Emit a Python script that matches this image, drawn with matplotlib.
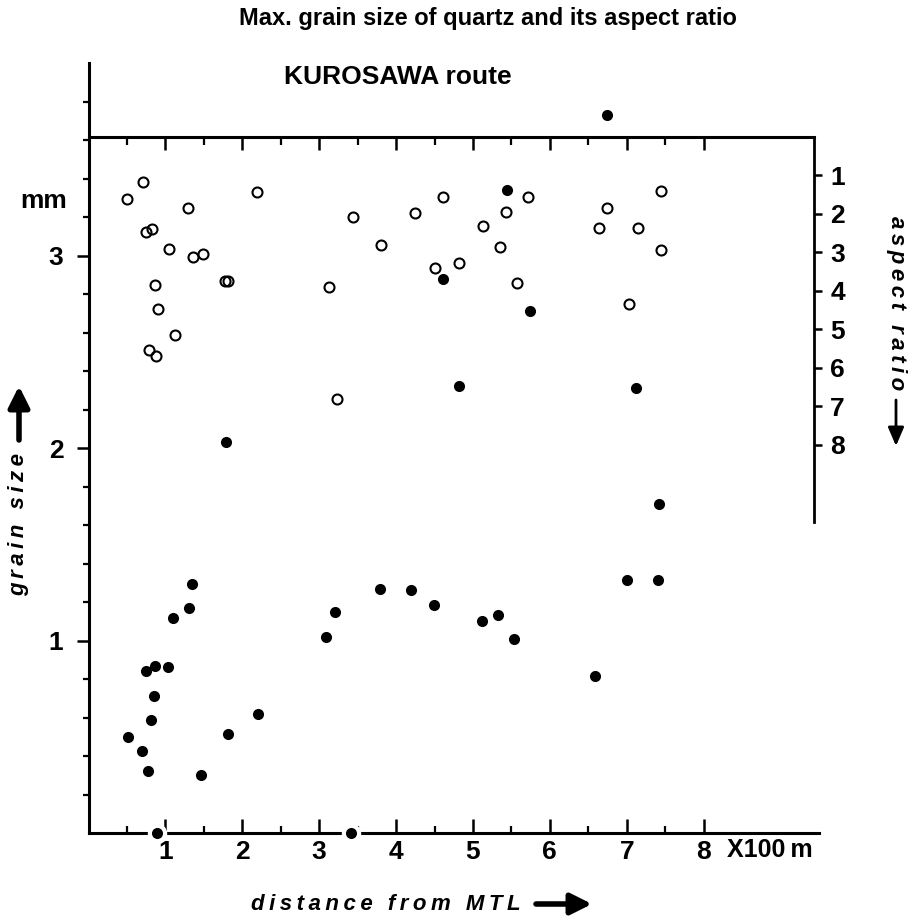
import numpy as np
import matplotlib
matplotlib.use('Agg')
import matplotlib.pyplot as plt
from matplotlib.ticker import FixedLocator
from matplotlib.patches import FancyArrowPatch

# ---- data (distance in x100 m from MTL) ----
# maximum grain size of quartz (mm) -> filled circles, left axis
dist_gs = [0.51, 0.69, 0.77, 0.75, 0.86, 0.85, 0.81, 0.89, 1.04, 1.10, 1.31, 1.35,
           1.46, 1.79, 1.82, 2.21, 3.09, 3.21, 3.42, 3.79, 4.20, 4.49, 4.61, 4.82,
           5.12, 5.32, 5.44, 5.54, 5.74, 6.59, 6.74, 7.00, 7.12, 7.40, 7.42]
grain_size = [0.50, 0.425, 0.32, 0.84, 0.87, 0.71, 0.585, 0.0, 0.86, 1.115, 1.167, 1.295,
              0.30, 2.03, 0.514, 0.62, 1.02, 1.15, 0.0, 1.266, 1.26, 1.185, 2.88, 2.32,
              1.10, 1.13, 3.34, 1.01, 2.71, 0.818, 3.73, 1.316, 2.31, 1.314, 1.71]
# aspect ratio -> open circles, right axis (inverted)
dist_ar = [0.50, 0.71, 0.75, 0.83, 1.29, 1.05, 1.36, 1.49, 0.87, 0.91, 1.12, 0.79,
           0.88, 1.77, 1.82, 2.19, 3.13, 3.23, 3.44, 3.80, 4.25, 4.61, 4.51, 4.82,
           5.13, 5.35, 5.43, 5.57, 5.72, 6.64, 6.74, 7.03, 7.15, 7.45, 7.44]
aspect_ratio = [1.61, 1.18, 2.47, 2.39, 1.84, 2.90, 3.12, 3.04, 3.85, 4.46, 5.14, 5.53,
                5.70, 3.73, 3.73, 1.43, 3.90, 6.81, 2.07, 2.81, 1.98, 1.57, 3.41, 3.27,
                2.31, 2.85, 1.96, 3.80, 1.55, 2.37, 1.85, 4.34, 2.36, 1.40, 2.94]

x_major = [1, 2, 3, 4, 5, 6, 7, 8]
x_minor = [0.5, 1.5, 2.5, 3.5, 4.5, 5.5, 6.5, 7.5]
x_labels = ['1', '2', '3', '4', '5', '6', '7', '8']
y_major = [1, 2, 3]
y_labels = ['1', '2', '3']
y_minor = [0.2, 0.4, 0.6, 0.8, 1.2, 1.4, 1.6, 1.8, 2.2, 2.4, 2.6, 2.8, 3.2, 3.4, 3.6, 3.8]
ar_ticks = [1, 2, 3, 4, 5, 6, 7, 8]

title = 'Max. grain size of quartz and its aspect ratio'
route = 'KUROSAWA route'

plt.rcParams['font.family'] = ['Liberation Sans', 'DejaVu Sans']
plt.rcParams['font.weight'] = 'bold'

W, H = 910, 919
fig = plt.figure(figsize=(W / 100, H / 100), dpi=100)


def fx(px):
    return px / W


def fy(py):
    return 1 - py / H


ax = fig.add_axes([fx(88.5), fy(833), (819 - 88.5) / W, (833 - 63) / H])
ax.set_xlim(0, 9.5)
ax.set_ylim(0, 4.0)
for s in ['top', 'right']:
    ax.spines[s].set_visible(False)
ax.spines['left'].set_linewidth(2.2)
ax.spines['bottom'].set_linewidth(2.2)

ax.xaxis.set_major_locator(FixedLocator(x_major))
ax.xaxis.set_minor_locator(FixedLocator(x_minor))
ax.set_xticklabels(x_labels)
ax.yaxis.set_major_locator(FixedLocator(y_major))
ax.yaxis.set_minor_locator(FixedLocator(y_minor))
ax.set_yticklabels(y_labels)
ax.tick_params(axis='x', which='major', direction='in', length=10, width=1.8,
               pad=5, labelsize=19)
ax.tick_params(axis='x', which='minor', direction='in', length=5, width=1.6)
ax.tick_params(axis='y', which='major', direction='out', length=9, width=1.8,
               pad=9, labelsize=19)
ax.tick_params(axis='y', which='minor', direction='out', length=4, width=1.6)
for lab in ax.get_xticklabels() + ax.get_yticklabels():
    lab.set_fontweight('bold')

# right axis: aspect ratio (inverted)
ax2 = ax.twinx()
ax2.set_ylim(18.08, -1.92)
for s in ['top', 'left', 'bottom']:
    ax2.spines[s].set_visible(False)
ax2.spines['right'].set_position(('data', 9.43))
ax2.spines['right'].set_bounds(0, 10)
ax2.spines['right'].set_linewidth(2.0)
ax2.yaxis.set_major_locator(FixedLocator(ar_ticks))
ax2.set_yticklabels([str(t) for t in ar_ticks])
ax2.tick_params(axis='y', direction='out', length=6, width=1.8, pad=6, labelsize=19)
for lab in ax2.get_yticklabels():
    lab.set_fontweight('bold')

# top frame line (aspect ratio = 0) with downward ticks
sec = ax.secondary_xaxis(1.0 - (1.92 / 20.0))
sec.spines['top'].set_bounds(0, 9.43)
sec.spines['top'].set_linewidth(2.2)
sec.xaxis.set_major_locator(FixedLocator(x_major))
sec.xaxis.set_minor_locator(FixedLocator(x_minor))
sec.tick_params(axis='x', which='major', direction='in', length=9, width=1.8,
                labeltop=False, labelbottom=False)
sec.tick_params(axis='x', which='minor', direction='in', length=6, width=1.6,
                labeltop=False, labelbottom=False)

# data
gx = np.array(dist_gs)
gy = np.array(grain_size)
on_axis = gy == 0
ax.plot(gx[~on_axis], gy[~on_axis], 'o', ms=8.0, mfc='black', mec='black',
        mew=0, zorder=5, clip_on=False)
ax.plot(gx[on_axis], gy[on_axis], 'o', ms=11.0, mfc='black', mec='white',
        mew=3, zorder=6, clip_on=False)
ax2.plot(dist_ar, aspect_ratio, 'o', ms=7.2, mfc='none', mec='black', mew=1.5,
         zorder=5, clip_on=False)

# texts
fig.text(fx(488), fy(18), title, ha='center', va='center', fontsize=17, fontweight='bold')
fig.text(fx(398), fy(77), route, ha='center', va='center', fontsize=19, fontweight='bold')
fig.text(fx(44), fy(201), 'mm', ha='center', va='center', fontsize=19, fontweight='bold')
fig.text(fx(727), fy(850), 'X100\u2009m', ha='left', va='center', fontsize=18,
         fontweight='bold')

sp = '\u2009'
fig.text(fx(19), fy(525), sp.join('grain size'), rotation=90, ha='center', va='center',
         fontsize=16, fontweight='bold', fontstyle='italic')
fig.text(fx(896), fy(303), sp.join('aspect ratio'), rotation=-90, ha='center',
         va='center', fontsize=16, fontweight='bold', fontstyle='italic')
fig.text(fx(386), fy(904), sp.join('distance from MTL'), ha='center', va='center',
         fontsize=16, fontweight='bold', fontstyle='italic')

# arrows
arr = dict(arrowstyle='-|>,head_length=0.7,head_width=0.35', lw=4, color='black',
           mutation_scale=18, shrinkA=0, shrinkB=0)
fig.add_artist(FancyArrowPatch((fx(19), fy(440)), (fx(19), fy(386)),
                               transform=fig.transFigure, **arr))
fig.add_artist(FancyArrowPatch((fx(536), fy(904)), (fx(592), fy(904)),
                               transform=fig.transFigure, **arr))
arr2 = dict(arrowstyle='-|>,head_length=0.7,head_width=0.3', lw=2, color='black',
            mutation_scale=16, shrinkA=0, shrinkB=0)
fig.add_artist(FancyArrowPatch((fx(896), fy(400)), (fx(896), fy(446)),
                               transform=fig.transFigure, **arr2))

fig.savefig('out.png', dpi=100, facecolor='white')
